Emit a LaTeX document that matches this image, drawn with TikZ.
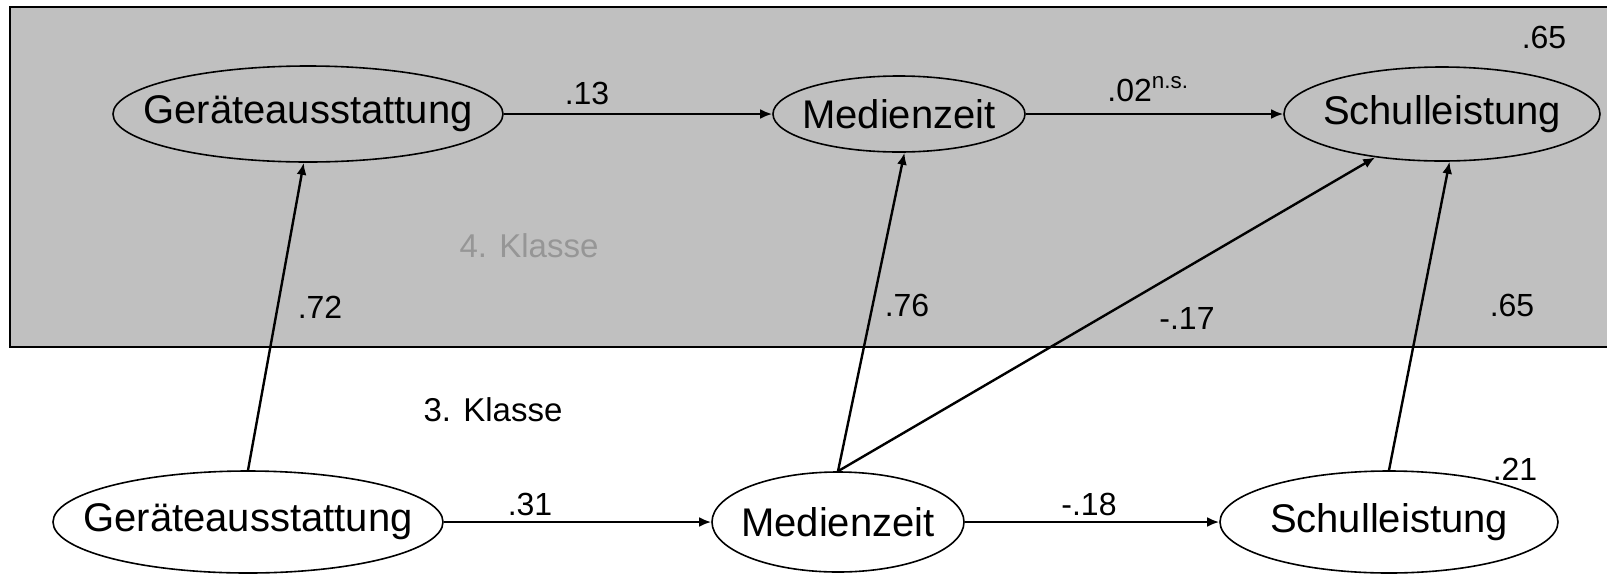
\documentclass[tikz,border=0pt]{standalone}
\usepackage{fontspec}
\setmainfont{Liberation Sans}
\usetikzlibrary{shapes.geometric,arrows.meta}
\definecolor{boxgrey}{RGB}{192,192,192}
\definecolor{labgrey}{RGB}{150,150,150}
\begin{document}
\begin{tikzpicture}[x=0.5pt,y=-0.5pt,
  var/.style={ellipse,draw=black,line width=0.8pt,inner sep=0pt,font=\fontsize{20}{24}\selectfont},
  coef/.style={font=\fontsize{16}{19}\selectfont,inner sep=0pt},
  klasse/.style={font=\fontsize{16.5}{19}\selectfont,inner sep=0pt},
  pathar/.style={line width=1.2pt,-{Latex[length=6pt,width=5pt]}}]
\useasboundingbox (0,0) rectangle (1607,574);
\fill[white] (0,0) rectangle (1607,574);
\draw[line width=1pt,fill=boxgrey] (1620,7) -- (10,7) -- (10,347) -- (1620,347);
\node[klasse,text=labgrey] (k4) at (529,246) {4. Klasse};
\node[klasse] (k3) at (493,410) {3. Klasse};
% 4th grade
\node[var,minimum width=195pt,minimum height=48pt] (g4) at (308,114) {\makebox[0pt]{Geräteausstattung}};
\node[var,minimum width=126pt,minimum height=38pt] (m4) at (899,114) {\makebox[0pt]{Medienzeit}};
\node[var,minimum width=158pt,minimum height=47pt] (s4) at (1442,114) {\makebox[0pt]{Schulleistung}};
% 3rd grade
\node[var,fill=white,minimum width=195pt,minimum height=51pt] (g3) at (248,522) {\makebox[0pt]{Geräteausstattung}};
\node[var,fill=white,minimum width=126pt,minimum height=50pt] (m3) at (838,522) {\makebox[0pt]{Medienzeit}};
\node[var,fill=white,minimum width=169pt,minimum height=51pt] (s3) at (1389,522) {\makebox[0pt]{Schulleistung}};
% paths
\draw[pathar] (g4) -- (m4);
\draw[pathar] (m4) -- (s4);
\draw[pathar] (g3) -- (m3);
\draw[pathar] (m3) -- (s3);
\draw[pathar] (g3.north) -- (g4.-95);
\draw[pathar] (m3.north) -- (m4.-82);
\draw[pathar] (m3.north) -- (s4.-147);
\draw[pathar] (s3.north) -- (s4.-81);
% coefficients
\node[coef] (c13) at (587,93) {.13};
\node[coef,anchor=base west] (c02) at (1107,101) {.02\textsuperscript{n.s.}};
\node[coef] (c65t) at (1544,37) {.65};
\node[coef] (c72) at (320,307) {.72};
\node[coef] (c76) at (907,305) {.76};
\node[coef] (c17) at (1187,318) {-.17};
\node[coef] (c65) at (1512,305) {.65};
\node[coef] (c31) at (530,504) {.31};
\node[coef] (c18) at (1089,504) {-.18};
\node[coef] (c21) at (1515,469) {.21};
\end{tikzpicture}
\end{document}
